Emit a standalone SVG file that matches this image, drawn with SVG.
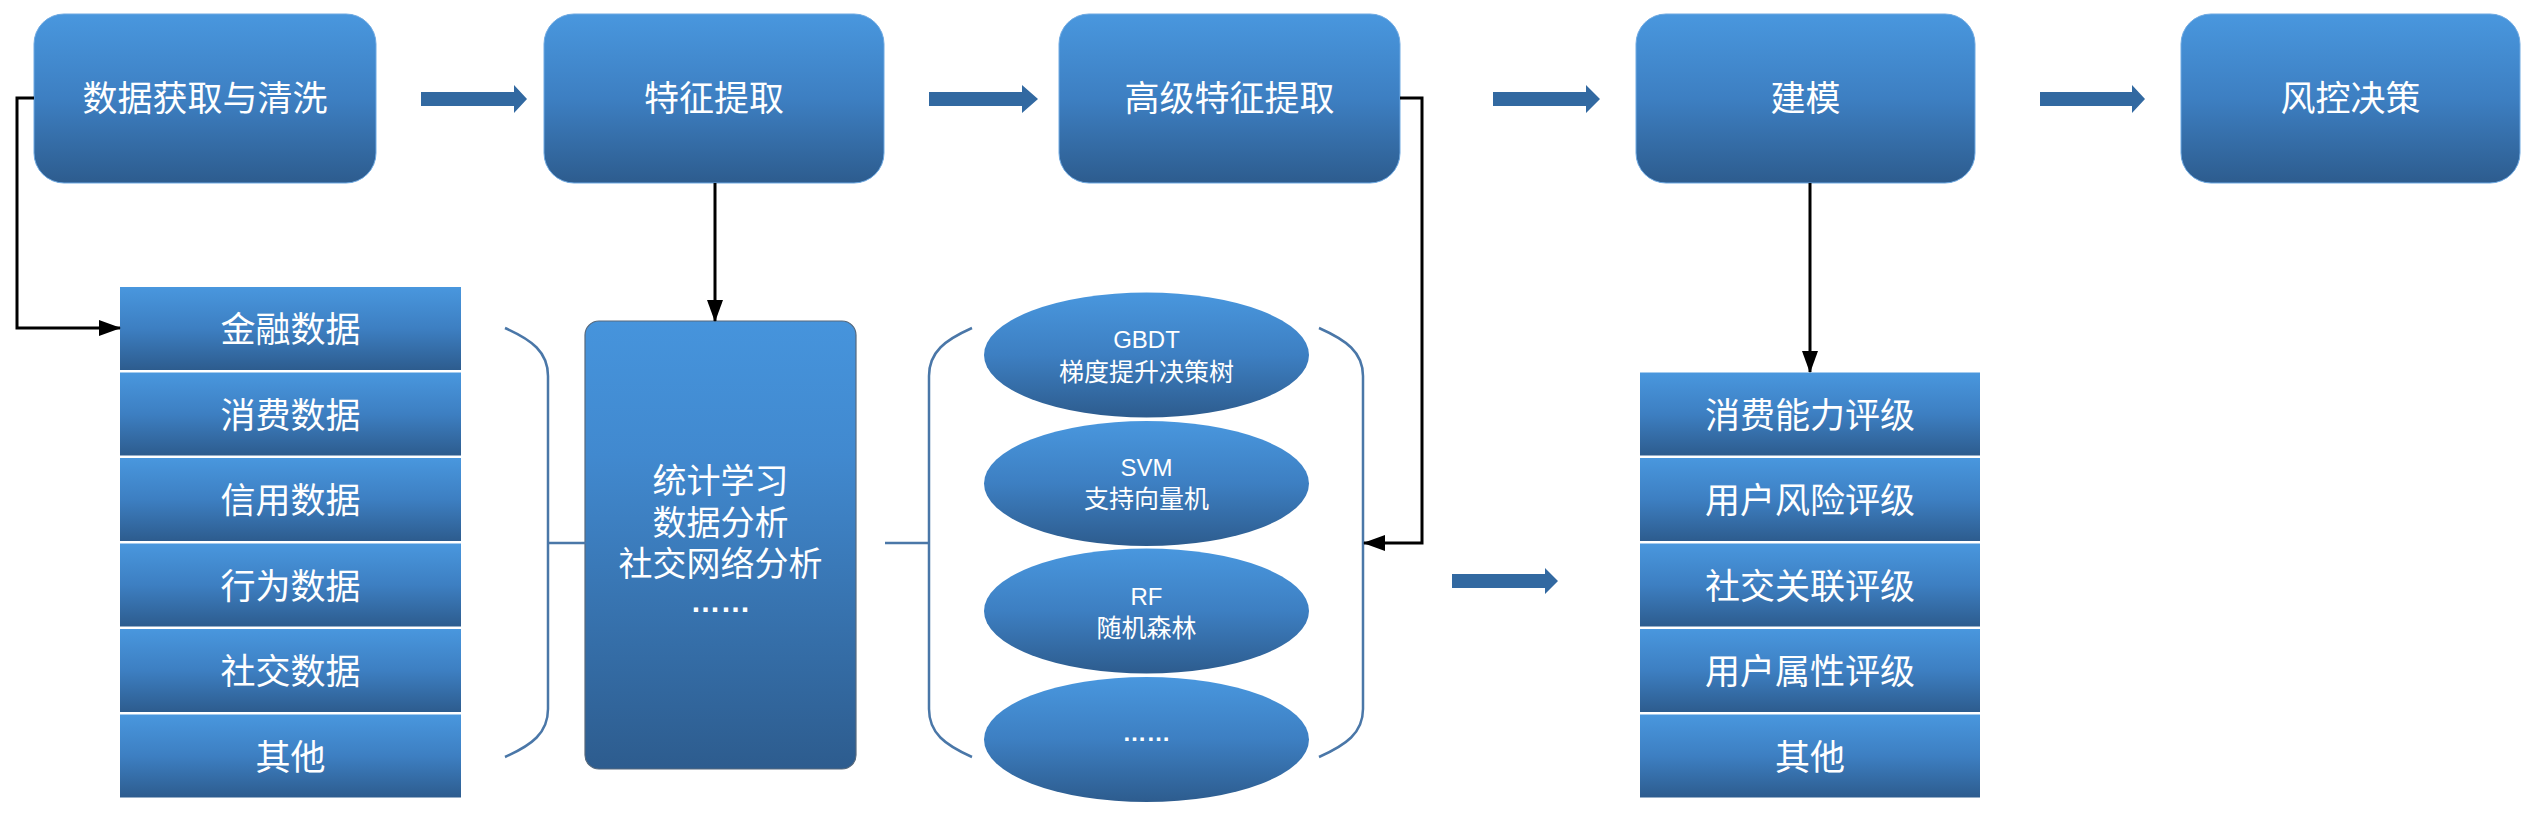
<svg xmlns="http://www.w3.org/2000/svg" width="2534" height="826" viewBox="0 0 2534 826">
<defs>
<linearGradient id="gBlue" x1="0" y1="0" x2="0" y2="1">
<stop offset="0" stop-color="#4997de"/>
<stop offset="0.5" stop-color="#3d7fc2"/>
<stop offset="1" stop-color="#2d5c8e"/>
</linearGradient>
<linearGradient id="gBig" x1="0" y1="0" x2="0" y2="1">
<stop offset="0" stop-color="#4694dc"/>
<stop offset="0.3" stop-color="#4189cf"/>
<stop offset="1" stop-color="#2d5c8e"/>
</linearGradient>
<marker id="ah" markerUnits="userSpaceOnUse" markerWidth="22" markerHeight="16" refX="21" refY="8" orient="auto">
<path d="M0,0 L22,8 L0,16 Z" fill="#000"/>
</marker>
<style>
.box{fill:url(#gBlue);stroke:#6ea9e2;stroke-width:1}
.item{fill:url(#gBlue)}
.ell{fill:url(#gBlue)}
.big{fill:url(#gBig);stroke:#56697d;stroke-width:1.2}
.t{font-family:"Liberation Sans","Noto Sans CJK SC",sans-serif;fill:#fff;text-anchor:middle}
.lat{font-family:"Liberation Sans Narrow","Liberation Sans","Noto Sans CJK SC",sans-serif}
.t35{font-size:35px}
.t34{font-size:34px}
.t30{font-size:30px}
.t25{font-size:25px}
.t24{font-size:24px}
.dots{font-weight:bold}
.blk{fill:#3269a1}
.brk{fill:none;stroke:#4a77a8;stroke-width:2.5}
.con{fill:none;stroke:#000;stroke-width:3;marker-end:url(#ah)}
</style>
</defs>
<rect width="2534" height="826" fill="#fff"/>

<g id="node-data">
<rect class="box" x="34" y="14" width="342" height="169" rx="30"/>
<text class="t t35" x="205" y="111">数据获取与清洗</text>
</g>
<g id="node-feature">
<rect class="box" x="544" y="14" width="340" height="169" rx="30"/>
<text class="t t35" x="714" y="111">特征提取</text>
</g>
<g id="node-advfeature">
<rect class="box" x="1059" y="14" width="341" height="169" rx="30"/>
<text class="t t35" x="1229.5" y="111">高级特征提取</text>
</g>
<g id="node-model">
<rect class="box" x="1636" y="14" width="339" height="169" rx="30"/>
<text class="t t35" x="1805.5" y="111">建模</text>
</g>
<g id="node-decision">
<rect class="box" x="2181" y="14" width="339" height="169" rx="30"/>
<text class="t t35" x="2350.5" y="111">风控决策</text>
</g>

<g id="list-data">
<rect class="item" x="120" y="287" width="341" height="83"/>
<text class="t t35" x="290.5" y="342">金融数据</text>
<rect class="item" x="120" y="372.5" width="341" height="83"/>
<text class="t t35" x="290.5" y="427.5">消费数据</text>
<rect class="item" x="120" y="458" width="341" height="83"/>
<text class="t t35" x="290.5" y="513">信用数据</text>
<rect class="item" x="120" y="543.5" width="341" height="83"/>
<text class="t t35" x="290.5" y="598.5">行为数据</text>
<rect class="item" x="120" y="629" width="341" height="83"/>
<text class="t t35" x="290.5" y="684">社交数据</text>
<rect class="item" x="120" y="714.5" width="341" height="83"/>
<text class="t t35" x="290.5" y="769.5">其他</text>
</g>

<g id="node-methods">
<rect class="big" x="585" y="321" width="271" height="448" rx="14"/>
<text class="t t34" x="720.5" y="493">统计学习</text>
<text class="t t34" x="720.5" y="535">数据分析</text>
<text class="t t34" x="720.5" y="576">社交网络分析</text>
<text class="t t30 dots" x="720.5" y="612">……</text>
</g>

<g id="node-models">
<ellipse class="ell" cx="1146.5" cy="355" rx="162.5" ry="62.5"/>
<text class="t lat t24" x="1146.5" y="347.5">GBDT</text>
<text class="t t25" x="1146.5" y="380.5">梯度提升决策树</text>
<ellipse class="ell" cx="1146.5" cy="483.5" rx="162.5" ry="62.5"/>
<text class="t lat t24" x="1146.5" y="476">SVM</text>
<text class="t t25" x="1146.5" y="507.5">支持向量机</text>
<ellipse class="ell" cx="1146.5" cy="611" rx="162.5" ry="62.5"/>
<text class="t lat t24" x="1146.5" y="604.5">RF</text>
<text class="t t25" x="1146.5" y="636.5">随机森林</text>
<ellipse class="ell" cx="1146.5" cy="739.5" rx="162.5" ry="62.5"/>
<text class="t t24 dots" x="1146.5" y="741">……</text>
</g>

<g id="list-ratings">
<rect class="item" x="1640" y="372.5" width="340" height="83"/>
<text class="t t35" x="1810" y="427.5">消费能力评级</text>
<rect class="item" x="1640" y="458" width="340" height="83"/>
<text class="t t35" x="1810" y="513">用户风险评级</text>
<rect class="item" x="1640" y="543.5" width="340" height="83"/>
<text class="t t35" x="1810" y="598.5">社交关联评级</text>
<rect class="item" x="1640" y="629" width="340" height="83"/>
<text class="t t35" x="1810" y="684">用户属性评级</text>
<rect class="item" x="1640" y="714.5" width="340" height="83"/>
<text class="t t35" x="1810" y="769.5">其他</text>
</g>

<g id="connectors">
<path class="blk" d="M421,92 L514,92 L514,85 L527,99 L514,113 L514,106 L421,106 Z"/>
<path class="blk" d="M929,92 L1022,92 L1022,85 L1038,99 L1022,113 L1022,106 L929,106 Z"/>
<path class="blk" d="M1493,92 L1586,92 L1586,85 L1600,99 L1586,113 L1586,106 L1493,106 Z"/>
<path class="blk" d="M2040,92 L2132,92 L2132,85 L2145,99 L2132,113 L2132,106 L2040,106 Z"/>
<path class="blk" d="M1452,574 L1545,574 L1545,568 L1558,581 L1545,594 L1545,588 L1452,588 Z"/>

<path class="brk" d="M505,328 C532,340 548,352 548,376 L548,709 C548,733 532,745 505,757"/>
<path class="brk" d="M548,543 L586,543"/>
<path class="brk" d="M972,328 C945,340 929,352 929,376 L929,709 C929,733 945,745 972,757"/>
<path class="brk" d="M885,543 L929,543"/>
<path class="brk" d="M1319,328 C1346,340 1363,352 1363,376 L1363,709 C1363,733 1346,745 1319,757"/>

<path class="con" d="M34,98 L17,98 L17,328 L120,328"/>
<path class="con" d="M715,183 L715,321"/>
<path class="con" d="M1400,98 L1422,98 L1422,543 L1364,543"/>
<path class="con" d="M1810,183 L1810,372"/>
</g>
</svg>
